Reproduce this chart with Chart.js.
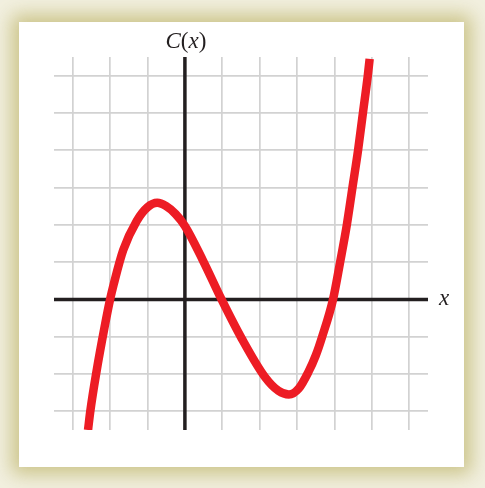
<!DOCTYPE html>
<html>
<head>
<meta charset="utf-8">
<script src="https://cdn.jsdelivr.net/npm/chart.js@4.4.1/dist/chart.umd.min.js"></script>
<style>
  html, body { margin: 0; padding: 0; }
  body {
    width: 485px; height: 488px; overflow: hidden; position: relative;
    background: #f2f0e0;
  }
  #panel {
    position: absolute; left: 19px; top: 22px; width: 445px; height: 445px;
    background: #fff;
    box-shadow: 0 0 18px 7px rgba(192, 184, 112, 0.8);
  }
  #wrap { position: absolute; left: 0; top: 0; width: 485px; height: 488px; }
</style>
</head>
<body>
<div id="panel"></div>
<div id="wrap"><canvas id="costChart"></canvas></div>
<script>
// Punkte der Kurve C(x)
const curveX = [-2.59, -2.53, -2.37, -2.14, -2.0, -1.9, -1.65, -1.29, -1.0, -0.74, -0.5, -0.25, 0, 0.49, 0.98, 1.52, 2.14, 2.5, 2.78, 3.05, 3.3, 3.5, 3.67, 3.96, 4.15, 4.33, 4.48, 4.63, 4.76, 4.89, 4.94];
const curveY = [-3.5, -3.0, -1.97, -0.7, 0, 0.42, 1.32, 2.1, 2.47, 2.59, 2.5, 2.29, 1.97, 1.03, 0, -1.05, -2.08, -2.45, -2.55, -2.38, -1.95, -1.5, -1.0, 0, 1.0, 2.0, 3.0, 4.0, 5.0, 6.0, 6.45];

// Gitterlinien
const xTicks = [-3, -2, -1, 0, 1, 2, 3, 4, 5, 6];
const yTicks = [-3, -2, -1, 0, 1, 2, 3, 4, 5, 6];
const xRange = [-3.5, 6.5];
const yRange = [-3.5, 6.5];

const curveData = curveX.map((x, i) => ({ x: x, y: curveY[i] }));

// Achsenbeschriftung
const axisLabels = {
  id: 'axisLabels',
  afterDraw(chart) {
    const ctx = chart.ctx;
    const xs = chart.scales.x, ys = chart.scales.y;
    const x0 = xs.getPixelForValue(0);
    const y0 = ys.getPixelForValue(0);
    ctx.save();
    ctx.fillStyle = '#231f20';
    ctx.textBaseline = 'alphabetic';
    ctx.textAlign = 'left';
    const parts = [['C', 'italic'], ['(', 'normal'], ['x', 'italic'], [')', 'normal']];
    let w = 0;
    parts.forEach(p => { ctx.font = p[1] + ' 23px "Liberation Serif"'; w += ctx.measureText(p[0]).width; });
    let px = x0 - w / 2 + 1;
    parts.forEach(p => {
      ctx.font = p[1] + ' 23px "Liberation Serif"';
      ctx.fillText(p[0], px, chart.chartArea.top - 9);
      px += ctx.measureText(p[0]).width;
    });
    ctx.font = 'italic 23px "Liberation Serif"';
    ctx.fillText('x', chart.chartArea.right + 11, y0 + 6);
    ctx.restore();
  }
};

function hideScale(scale) { scale.width = 0; scale.height = 0; }

new Chart(document.getElementById('costChart'), {
  type: 'line',
  data: {
    datasets: [
      {
        data: curveData,
        borderColor: '#ed1c24',
        borderWidth: 8.5,
        pointRadius: 0,
        cubicInterpolationMode: 'monotone',
        borderCapStyle: 'butt',
        fill: false,
        order: 0
      },
      {
        data: [{ x: 0, y: yRange[0] }, { x: 0, y: yRange[1] }],
        borderColor: '#231f20',
        borderWidth: 3.5,
        pointRadius: 0,
        order: 1
      },
      {
        data: [{ x: xRange[0], y: 0 }, { x: xRange[1], y: 0 }],
        borderColor: '#231f20',
        borderWidth: 3.5,
        pointRadius: 0,
        order: 1
      }
    ]
  },
  options: {
    responsive: true,
    maintainAspectRatio: false,
    animation: false,
    layout: { padding: { left: 54, right: 57, top: 57, bottom: 58 } },
    plugins: {
      legend: { display: false },
      tooltip: { enabled: false }
    },
    scales: {
      x: {
        type: 'linear',
        min: xRange[0],
        max: xRange[1],
        afterBuildTicks: s => { s.ticks = xTicks.map(v => ({ value: v })); },
        afterFit: hideScale,
        ticks: { display: false },
        border: { display: false },
        grid: { color: '#d2d2d2', lineWidth: 1.7, drawTicks: false }
      },
      y: {
        type: 'linear',
        min: yRange[0],
        max: yRange[1],
        afterBuildTicks: s => { s.ticks = yTicks.map(v => ({ value: v })); },
        afterFit: hideScale,
        ticks: { display: false },
        border: { display: false },
        grid: { color: '#d2d2d2', lineWidth: 1.7, drawTicks: false }
      }
    }
  },
  plugins: [axisLabels]
});
</script>
</body>
</html>
